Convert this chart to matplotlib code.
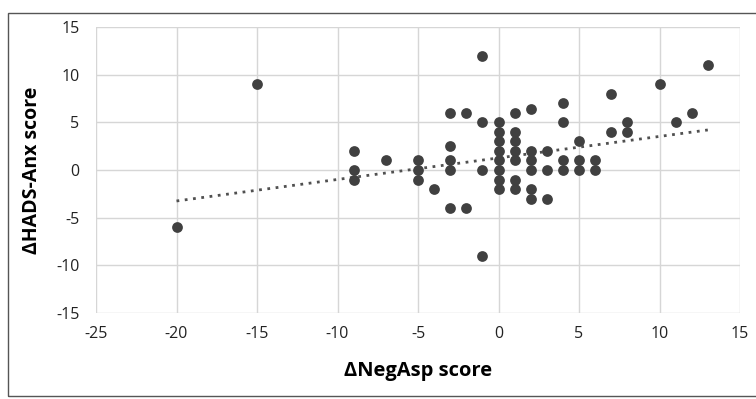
import numpy as np
import matplotlib
matplotlib.use("Agg")
import matplotlib.pyplot as plt
from matplotlib.patches import Rectangle

plt.rcParams["font.family"] = ["Open Sans", "DejaVu Sans"]
plt.rcParams["axes.unicode_minus"] = False

# change in NegAsp score (x) vs change in HADS-Anx score (y)
neg_asp = [-20, -15,
           -9, -9, -9,
           -7,
           -5, -5, -5,
           -4,
           -3, -3, -3, -3, -3,
           -2, -2,
           -1, -1, -1, -1,
           0, 0, 0, 0, 0, 0, 0, 0,
           1, 1, 1, 1, 1, 1, 1,
           2, 2, 2, 2, 2, 2,
           3, 3, 3,
           4, 4, 4, 4,
           5, 5, 5,
           6, 6,
           7, 7,
           8, 8,
           10, 11, 12, 13]
hads_anx = [-6, 9,
            2, 0, -1,
            1,
            1, 0, -1,
            -2,
            6, 2.5, 1, 0, -4,
            6, -4,
            12, 5, 0, -9,
            5, 4, 3, 2, 1, 0, -1, -2,
            6, 4, 3, 2, 1, -1, -2,
            6.4, 2, 1, 0, -2, -3,
            2, 0, -3,
            7, 5, 1, 0,
            3, 1, 0,
            1, 0,
            8, 4,
            5, 4,
            9, 5, 6, 11]

# linear trendline as drawn in the original (read at its two ends)
trend_x = [-20, 13]
trend_y = [-3.25, 4.2]

x_ticks = [-25, -20, -15, -10, -5, 0, 5, 10, 15]
y_ticks = [-15, -10, -5, 0, 5, 10, 15]

fig = plt.figure(figsize=(7.56, 3.99), dpi=100)
ax = fig.add_axes([96 / 756, 86 / 399, 644 / 756, 286 / 399])

ax.grid(True, color="#d6d6d6", linewidth=1.0)
ax.set_axisbelow(True)
for side in ["top", "right", "left", "bottom"]:
    ax.spines[side].set_visible(False)

ax.scatter(neg_asp, hads_anx, s=60, color="#404040", zorder=3, linewidths=0)

ax.plot(trend_x, trend_y, linestyle=(0, (1, 2)), color="#505050",
        linewidth=2.0, zorder=2)

ax.set_xlim(-25, 15)
ax.set_ylim(-15, 15)
ax.set_xticks(x_ticks)
ax.set_yticks(y_ticks)
ax.tick_params(length=0, labelsize=11.5, labelcolor="#222222")
ax.tick_params(axis="y", pad=12)
ax.tick_params(axis="x", pad=9)
ax.set_xlabel("ΔNegAsp score", fontsize=14.5, fontweight="bold", labelpad=14)
ax.set_ylabel("ΔHADS-Anx score", fontsize=14, fontweight="bold", labelpad=10)

fig.patches.append(Rectangle((8 / 756, 3 / 399), 1.0, 383 / 399,
                             transform=fig.transFigure, fill=False,
                             edgecolor="#555555", linewidth=1.0))

fig.savefig("out.png", dpi=100)
